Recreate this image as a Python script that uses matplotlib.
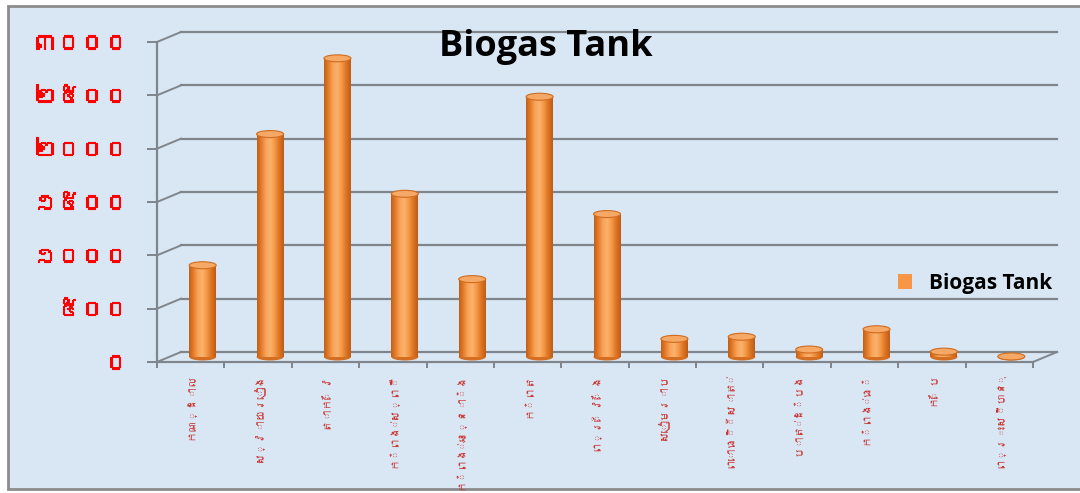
import numpy as np
import matplotlib
matplotlib.use("Agg")
import matplotlib.pyplot as plt
import matplotlib.patheffects as pe
from matplotlib.patches import Ellipse, Rectangle, Patch
from matplotlib.colors import LinearSegmentedColormap
from matplotlib import font_manager, ft2font

provinces = ["កណ្ដាល", "ស្វាយរៀង", "តាកែវ", "កំពង់ស្ពឺ", "កំពង់ឆ្នាំង", "កំពត", "ព្រៃវែង",
             "សៀមរាប", "ពោធិ៍សាត់", "បាត់ដំបង", "កំពង់ធំ", "កែប", "ព្រះសីហនុ"]
tanks = [860, 2090, 2800, 1530, 730, 2440, 1340, 170, 190, 70, 260, 50, 5]
ytick_vals = [0, 500, 1000, 1500, 2000, 2500, 3000]
ytick_labels = ["០", "៥០០", "១០០០", "១៥០០", "២០០០", "២៥០០", "៣០០០"]
title = "Biogas Tank"


def find_khmer_font():
    # look for any installed font that has Khmer glyphs
    for path in font_manager.findSystemFonts():
        try:
            cmap = ft2font.FT2Font(path).get_charmap()
        except Exception:
            continue
        if 0x1780 in cmap and 0x17E0 in cmap:
            try:
                font_manager.fontManager.addfont(path)
            except Exception:
                pass
            return font_manager.FontProperties(fname=path).get_name()
    return None


kh = find_khmer_font()
kh_family = [kh, "DejaVu Sans"] if kh else ["DejaVu Sans"]

W, H = 1080, 493
fig = plt.figure(figsize=(W / 100, H / 100), dpi=100)
fig.patch.set_facecolor("white")

# chart frame
fig.patches.append(Rectangle((8 / W, 4 / H), 1.2, (489 - 6) / H, transform=fig.transFigure,
                             facecolor="#d9e7f5", edgecolor="#8c8c8c", lw=2, zorder=-5))

ax = fig.add_axes([157 / W, 131 / H, 876 / W, 320 / H])
ax.set_zorder(2)
ax.patch.set_visible(False)
n = len(provinces)
x = np.arange(n)

# depth offset of the fake 3D back wall, in data units
ox = 24 * n / 876
oy = 10 * 3000 / 320

grid_c = "#7f858b"
for v in ytick_vals:
    ax.plot([-0.5 + ox, n - 0.5 + ox], [v + oy, v + oy], color=grid_c, lw=1.6, clip_on=False, zorder=1)
    ax.plot([-0.5, -0.5 + ox], [v, v + oy], color=grid_c, lw=1.4, clip_on=False, zorder=1)
ax.plot([n - 0.5, n - 0.5 + ox], [0, oy], color=grid_c, lw=1.4, clip_on=False, zorder=1)

# cylinder bars
cyl = LinearSegmentedColormap.from_list("cyl", ["#c25f17", "#e67f2c", "#f8a45a", "#fbb26c",
                                                "#f39745", "#dd7424", "#bf5c15"])
grad = np.linspace(0, 1, 64).reshape(1, -1)
bw = 27 * n / 876
eh = 7 * 3000 / 320
for xi, v in zip(x, tanks):
    xc = xi + ox / 2
    y0 = oy / 2
    ax.add_patch(Ellipse((xc, y0), bw, eh, facecolor="#d46e21", edgecolor="none", zorder=2))
    ax.imshow(grad, extent=[xc - bw / 2, xc + bw / 2, y0, y0 + v], aspect="auto",
              cmap=cyl, zorder=3, interpolation="bilinear")
    ax.add_patch(Ellipse((xc, y0 + v), bw, eh, facecolor="#f6a866", edgecolor="#d06c1f",
                         lw=0.8, zorder=4))

ax.set_xlim(-0.5, n - 0.5)
ax.set_ylim(0, 3000)

for s in ["top", "right"]:
    ax.spines[s].set_visible(False)
for s in ["left", "bottom"]:
    ax.spines[s].set_color(grid_c)
    ax.spines[s].set_linewidth(1.6)

ax.set_yticks(ytick_vals)
ax.set_yticklabels(ytick_labels, color="#ff0000", fontsize=17, fontweight="bold", family=kh_family)
for t in ax.get_yticklabels():
    t.set_path_effects([pe.withStroke(linewidth=0.8, foreground="#ff0000")])
ax.tick_params(axis="y", length=7, width=1.4, color=grid_c, pad=14)

ax.set_xticks(np.arange(n + 1) - 0.5)
ax.set_xticklabels([])
ax.tick_params(axis="x", which="major", length=4, width=1.4, color=grid_c)
ax.set_xticks(x, minor=True)
ax.set_xticklabels(provinces, minor=True, rotation=90, color="#c8322e", fontsize=8,
                   family=kh_family, va="top", ha="center")
ax.tick_params(axis="x", which="minor", length=0, pad=8)

fig.text(546 / W, 1 - 47 / H, title, fontsize=26, fontweight="bold", family="Open Sans",
         ha="center", va="center", color="black")

leg = ax.legend(handles=[Patch(facecolor="#f79646", edgecolor="none")], labels=["Biogas Tank"],
                loc="center right", bbox_to_anchor=(1052 / W, 1 - 283 / H),
                bbox_transform=fig.transFigure, frameon=False,
                handlelength=0.7, handleheight=0.7, handletextpad=0.8,
                borderpad=0, borderaxespad=0, prop={"family": "Open Sans", "weight": "bold", "size": 15})

fig.savefig("out.png", dpi=100, facecolor=fig.get_facecolor())
